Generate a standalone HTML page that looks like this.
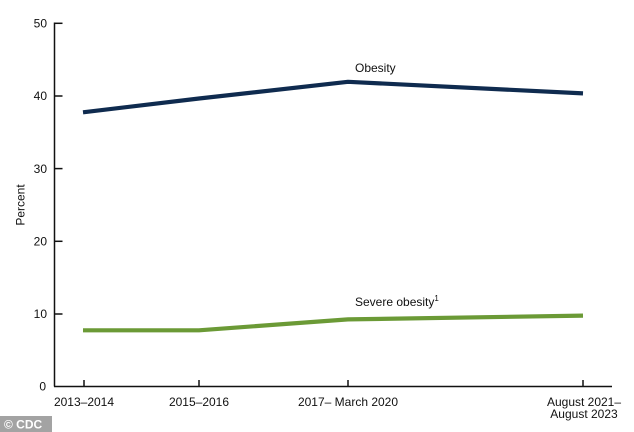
<!DOCTYPE html>
<html>
<head>
<meta charset="utf-8">
<style>
html,body{margin:0;padding:0;background:#fff;}
svg{display:block;font-family:"Liberation Sans",Arial,sans-serif;}
</style>
</head>
<body>
<svg width="634" height="432" viewBox="0 0 634 432" xmlns="http://www.w3.org/2000/svg">
<rect width="634" height="432" fill="#fff"/>
<!-- axes -->
<g stroke="#111" stroke-width="1.5" fill="none">
<line x1="54.5" y1="22.5" x2="54.5" y2="386.5"/>
<line x1="54" y1="386.5" x2="612" y2="386.5"/>
<!-- y ticks -->
<line x1="54" y1="23.3" x2="62.5" y2="23.3"/>
<line x1="54" y1="96" x2="62.5" y2="96"/>
<line x1="54" y1="168.6" x2="62.5" y2="168.6"/>
<line x1="54" y1="241.3" x2="62.5" y2="241.3"/>
<line x1="54" y1="314" x2="62.5" y2="314"/>
<!-- x ticks -->
<line x1="84" y1="386" x2="84" y2="380"/>
<line x1="199" y1="386" x2="199" y2="380"/>
<line x1="348" y1="386" x2="348" y2="380"/>
<line x1="583" y1="386" x2="583" y2="380"/>
</g>
<g font-size="12" fill="#111" text-anchor="end">
<text x="47" y="27.5">50</text>
<text x="47" y="100">40</text>
<text x="47" y="172.8">30</text>
<text x="47" y="245.5">20</text>
<text x="47" y="318.2">10</text>
<text x="46" y="390.5">0</text>
</g>
<text x="0" y="0" font-size="12" fill="#111" text-anchor="middle" transform="translate(24.5,205) rotate(-90)">Percent</text>
<g font-size="12" fill="#111" text-anchor="middle">
<text x="84" y="406">2013–2014</text>
<text x="199" y="406">2015–2016</text>
<text x="348" y="406">2017– March 2020</text>
<text x="584" y="406">August 2021–</text>
<text x="584" y="418">August 2023</text>
</g>
<!-- series -->
<polyline points="83,112.3 199,98.5 348,81.8 583,93.4" fill="none" stroke="#0f2b4f" stroke-width="4.2" stroke-linejoin="round"/>
<polyline points="83,330.3 199,330.3 348,319.4 583,315.6" fill="none" stroke="#6b9a36" stroke-width="4.2" stroke-linejoin="round"/>
<text x="355" y="72" font-size="12" fill="#111">Obesity</text>
<text x="355" y="306" font-size="12" fill="#111">Severe obesity<tspan font-size="8" dy="-5">1</tspan></text>
<!-- badge -->
<rect x="0" y="416" width="52" height="16" fill="#a3a3a3"/>
<text x="4" y="428.5" font-size="12" font-weight="bold" fill="#fff">© CDC</text>
</svg>
</body>
</html>
